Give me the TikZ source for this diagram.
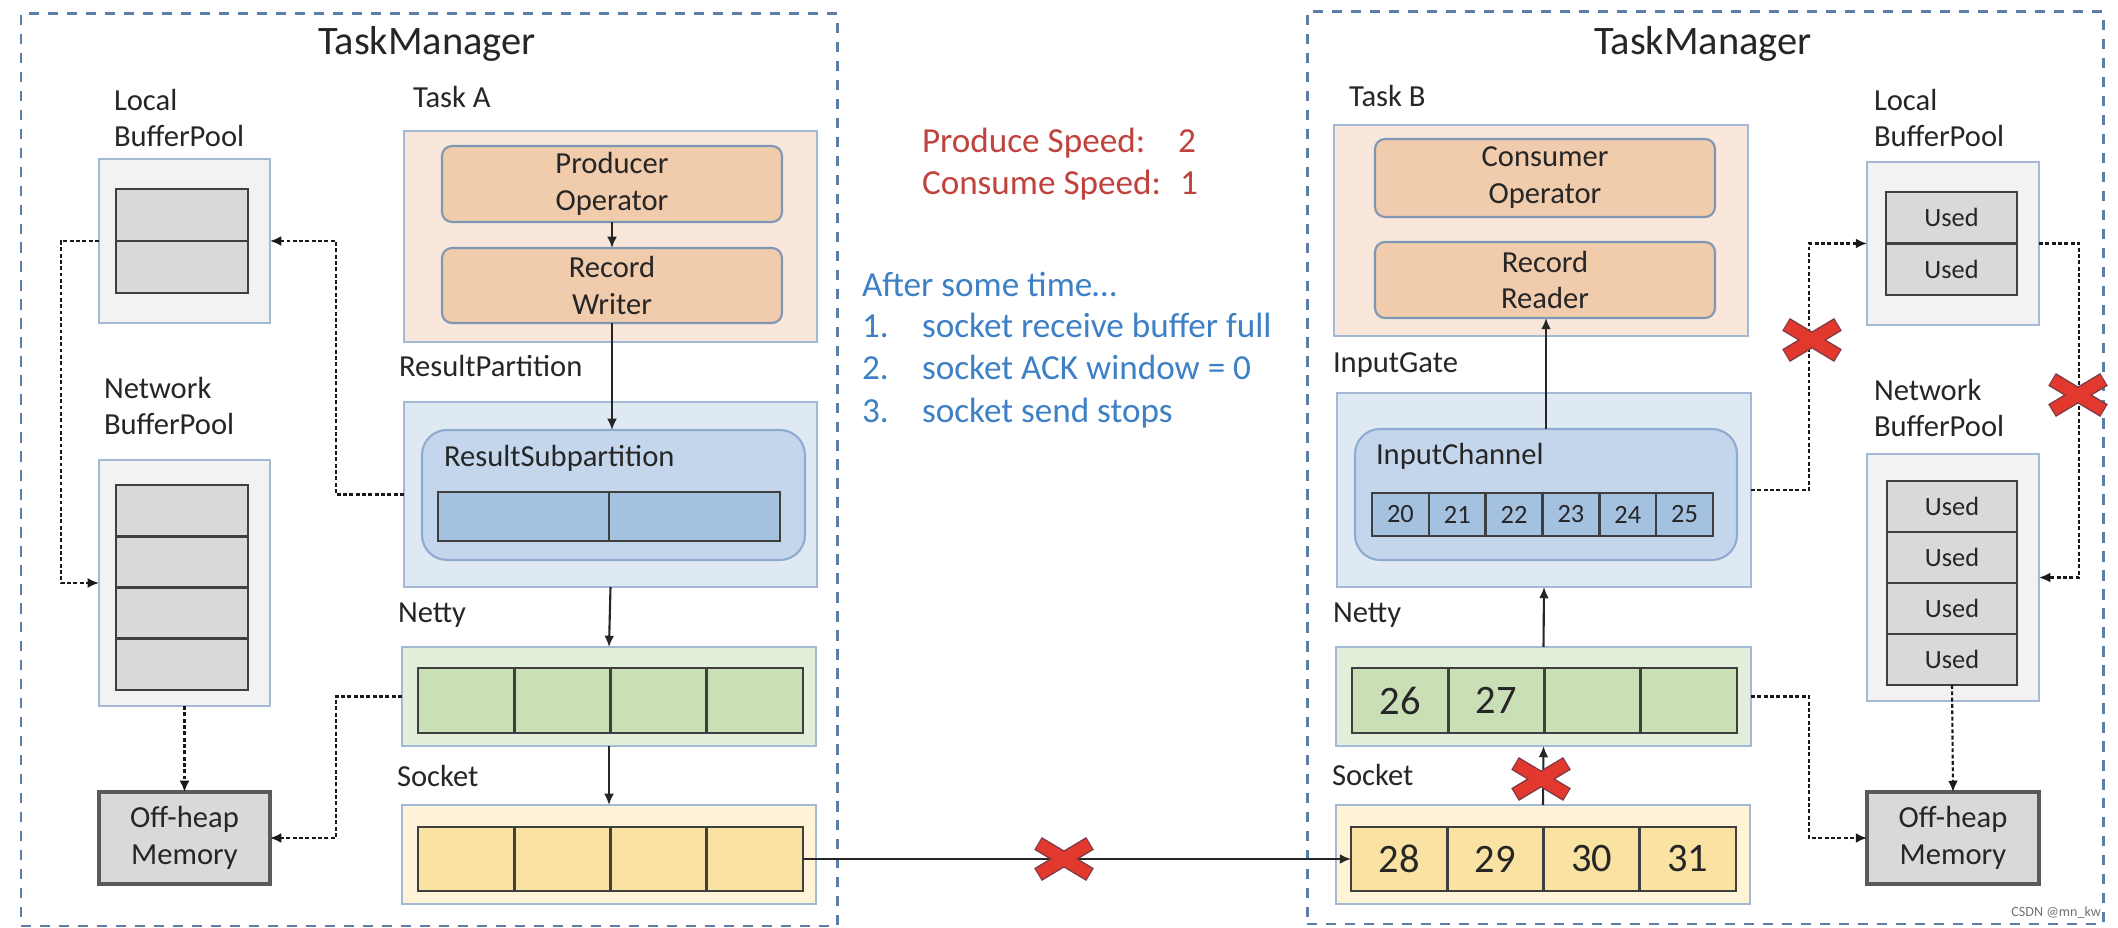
\documentclass[tikz,border=0pt]{standalone}
\usepackage{fontspec}
\setmainfont{Carlito}
\usetikzlibrary{fit,arrows.meta}
\definecolor{tmborder}{HTML}{5B7FA6}
\definecolor{boxborder}{HTML}{A3B9D5}
\definecolor{peach}{HTML}{F9E7DB}
\definecolor{opfill}{HTML}{F0CBAC}
\definecolor{opborder}{HTML}{7F97B5}
\definecolor{rpfill}{HTML}{DFE9F4}
\definecolor{rsfill}{HTML}{C4D6EB}
\definecolor{rsborder}{HTML}{8FABD0}
\definecolor{cellblue}{HTML}{A5C1E0}
\definecolor{nettyfill}{HTML}{E3EFDA}
\definecolor{cellgreen}{HTML}{CBDFB7}
\definecolor{sockfill}{HTML}{FEF2D7}
\definecolor{cellyellow}{HTML}{F9E2A2}
\definecolor{bpfill}{HTML}{F2F2F2}
\definecolor{cellgray}{HTML}{D9D9D9}
\definecolor{celldraw}{HTML}{3F3F3F}
\definecolor{ohborder}{HTML}{5A5A5A}
\definecolor{speedred}{HTML}{C0423C}
\definecolor{noteblue}{HTML}{3E80C6}
\definecolor{xred}{HTML}{E2382D}
\definecolor{xedge}{HTML}{7C3B45}
\definecolor{textdark}{HTML}{262626}
\begin{document}
\begin{tikzpicture}[x=0.01cm,y=-0.01cm,
  every node/.style={inner sep=0pt, outer sep=0pt, text=textdark},
  txt/.style={font=\fontsize{8.7}{10.5}\selectfont},
  lbl/.style={txt, anchor=base west, align=left},
  mid/.style={label={[txt, align=center]center:#1}},
  small/.style={label={[font=\fontsize{7.5}{9}\selectfont]center:#1}},
  big/.style={label={[font=\fontsize{11.5}{13}\selectfont]center:#1}},
  tmtitle/.style={font=\fontsize{11.5}{13}\selectfont, anchor=base},
  tmbox/.style={draw=tmborder, line width=0.85pt, dash pattern=on 2.9pt off 2.5pt},
  panel/.style={draw=boxborder, line width=0.6pt},
  opbox/.style={draw=opborder, fill=opfill, line width=0.6pt, rounded corners=0.1cm},
  chanbox/.style={draw=rsborder, fill=rsfill, line width=0.6pt, rounded corners=0.25cm},
  cell/.style={draw=celldraw, line width=0.75pt},
  ohbox/.style={draw=ohborder, fill=cellgray, line width=0.9pt},
  conn/.style={draw=black!85, line width=0.6pt, -{Latex[length=3.2pt,width=2.8pt]}},
  dconn/.style={draw=black!90, line width=0.6pt, dash pattern=on 1.1pt off 0.7pt, -{Latex[length=3.2pt,width=2.8pt]}},
  speed/.style={font=\fontsize{10}{12}\selectfont, text=speedred, anchor=base west},
  note/.style={font=\fontsize{10}{12}\selectfont, text=noteblue, anchor=base west},
  redx/.pic={
    \draw[xedge, line width=4.2pt] (-26,-15.6) -- (26,15.6) (-26,15.6) -- (26,-15.6);
    \draw[xred, line width=3.4pt] (-25,-15) -- (25,15) (-25,15) -- (25,-15);
  }
]
\useasboundingbox (0,0) rectangle (2118,928);
\fill[white] (0,0) rectangle (2118,928);

% ---------- TaskManager frames ----------
\node[tmbox, fit={(21,14) (837,926)}] (tmL) {};
\node[tmbox, fit={(1307,12) (2103,924)}] (tmR) {};
\node[tmtitle] (tmLt) at (427,55) {TaskManager};
\node[tmtitle] (tmRt) at (1703,55) {TaskManager};

% ---------- left side ----------
\node[lbl] (lbpLt) at (114,147) {Local\\BufferPool};
\node[lbl] (nbpLt) at (104,435) {Network\\BufferPool};
\node[lbl] (taskAt) at (413,108) {Task A};
\node[lbl] (rpt) at (399,377) {ResultPartition};
\node[lbl] (nettyLt) at (398,623) {Netty};
\node[lbl] (sockLt) at (397,787) {Socket};

\node[panel, fill=bpfill, fit={(99,159) (270,323)}] (lbpL) {};
\foreach \i in {0,1} {
  \node[cell, fill=cellgray, fit={(116,{189+52*\i}) (248,{241+52*\i})}] (lL\i) {};
}
\node[panel, fill=bpfill, fit={(99,460) (270,706)}] (nbpL) {};
\foreach \i in {0,...,3} {
  \node[cell, fill=cellgray, fit={(116,{485+51.25*\i}) (248,{536.25+51.25*\i})}] (nL\i) {};
}
\node[ohbox, mid={Off-heap\\Memory}, fit={(99,792) (270,884)}] (ohL) {};

\node[panel, fill=peach, fit={(404,131) (817,342)}] (taskA) {};
\node[opbox, mid={Producer\\Operator}, fit={(442,146) (782,222)}] (prod) {};
\node[opbox, mid={Record\\Writer}, fit={(442,248) (782,323)}] (rw) {};

\node[panel, fill=rpfill, fit={(404,402) (817,587)}] (rp) {};
\node[chanbox, fit={(422,430) (805,560)}] (rsub) {};
\node[lbl] (rsubt) at (444,467) {ResultSubpartition};
\foreach \i in {0,1} {
  \node[cell, fill=cellblue, fit={({438+171*\i},492) ({609+171*\i},541)}] (rs\i) {};
}

\node[panel, fill=nettyfill, fit={(402,647) (816,746)}] (nettyL) {};
\foreach \i in {0,...,3} {
  \node[cell, fill=cellgreen, fit={({418+96.25*\i},668) ({514.25+96.25*\i},733)}] (nl\i) {};
}
\node[panel, fill=sockfill, fit={(402,805) (816,904)}] (sockL) {};
\foreach \i in {0,...,3} {
  \node[cell, fill=cellyellow, fit={({418+96.25*\i},827) ({514.25+96.25*\i},891)}] (sl\i) {};
}

% ---------- middle text ----------
\node[speed] (ps) at (922,153) {Produce Speed:};
\node[speed] (psv) at (1178,153) {2};
\node[speed] (cs) at (922,195) {Consume Speed:};
\node[speed] (csv) at (1180,195) {1};
\node[note] (after) at (862,297) {After some time…};
\node[note] (n1) at (862,338) {1.};
\node[note] (n1t) at (922,338) {socket receive buffer full};
\node[note] (n2) at (862,380) {2.};
\node[note] (n2t) at (922,380) {socket ACK window = 0};
\node[note] (n3) at (862,423) {3.};
\node[note] (n3t) at (922,423) {socket send stops};

% ---------- right side ----------
\node[lbl] (taskBt) at (1349,107) {Task B};
\node[lbl] (igt) at (1333,373) {InputGate};
\node[lbl] (nettyRt) at (1333,623) {Netty};
\node[lbl] (sockRt) at (1332,785) {Socket};
\node[lbl] (lbpRt) at (1874,147) {Local\\BufferPool};
\node[lbl] (nbpRt) at (1874,437) {Network\\BufferPool};

\node[panel, fill=peach, fit={(1334,125) (1748,336)}] (taskB) {};
\node[opbox, mid={Consumer\\Operator}, fit={(1375,139) (1715,217)}] (cons) {};
\node[opbox, mid={Record\\Reader}, fit={(1375,242) (1715,318)}] (rr) {};

\node[panel, fill=rpfill, fit={(1337,393) (1751,587)}] (igate) {};
\node[chanbox, fit={(1355,429) (1737,560)}] (ichan) {};
\node[lbl] (ichant) at (1376,465) {InputChannel};
\foreach \i/\n in {0/20,1/21,2/22,3/23,4/24,5/25} {
  \node[cell, fill=cellblue, small=\n,
        fit={({1372+56.83*\i},493) ({1428.83+56.83*\i},536)}] (ic\i) {};
}

\node[panel, fill=nettyfill, fit={(1336,647) (1751,746)}] (nettyR) {};
\foreach \i/\n in {0/26,1/27,2/,3/} {
  \node[cell, fill=cellgreen, big=\n,
        fit={({1352+96.25*\i},668) ({1448.25+96.25*\i},733)}] (nr\i) {};
}
\node[panel, fill=sockfill, fit={(1336,805) (1750,904)}] (sockR) {};
\foreach \i/\n in {0/28,1/29,2/30,3/31} {
  \node[cell, fill=cellyellow, big=\n,
        fit={({1351+96.25*\i},827) ({1447.25+96.25*\i},891)}] (sr\i) {};
}

\node[panel, fill=bpfill, fit={(1867,162) (2039,325)}] (lbpR) {};
\foreach \i in {0,1} {
  \node[cell, fill=cellgray, small=Used,
        fit={(1886,{192+51.5*\i}) (2017,{243.5+51.5*\i})}] (lR\i) {};
}
\node[panel, fill=bpfill, fit={(1867,454) (2039,701)}] (nbpR) {};
\foreach \i in {0,...,3} {
  \node[cell, fill=cellgray, small=Used,
        fit={(1887,{481+51*\i}) (2017,{532+51*\i})}] (nR\i) {};
}
\node[ohbox, mid={Off-heap\\Memory}, fit={(1867,792) (2039,884)}] (ohR) {};

% ---------- connectors ----------
\draw[conn] (prod.south) -- (rw.north);
\draw[conn] (rw.south) -- (rw.south |- rsub.north);
\draw[conn] (rp.south) -- (nettyL.north);
\draw[conn] (nettyL.south) -- (sockL.north);
\draw[dconn] (rp.west) -- ++(-68,0) |- (lbpL.east);
\draw[dconn] (lbpL.west) -- ++(-38,0) |- (nbpL.west);
\draw[dconn] (nbpL.south) -- (ohL.north);
\draw[dconn] (nettyL.west) -- ++(-66,0) |- (ohL.east);
\draw[conn] (sl3.east) -- (sr0.west);

\draw[conn] (ichan.north) -- (ichan.north |- rr.south);
\draw[conn] (nettyR.north) -- (igate.south);
\draw[conn] (sockR.north) -- (nettyR.south);
\draw[dconn] (igate.east) -- ++(58,0) |- (lbpR.west);
\draw[dconn] (lbpR.east) -- ++(40,0) |- (nbpR.east);
\draw[dconn] (nR3.south) -- (ohR.north);
\draw[dconn] (nettyR.east) -- ++(58,0) |- (ohR.west);

% ---------- blocked marks ----------
\pic at (1064,859) {redx};
\pic at (1812,340) {redx};
\pic at (2078,395) {redx};
\pic at (1541,779) {redx};

\node[font=\fontsize{4}{5}\selectfont, text=black!55, anchor=base east] (wm) at (2101,916) {CSDN @mn\_kw};
\end{tikzpicture}
\end{document}
